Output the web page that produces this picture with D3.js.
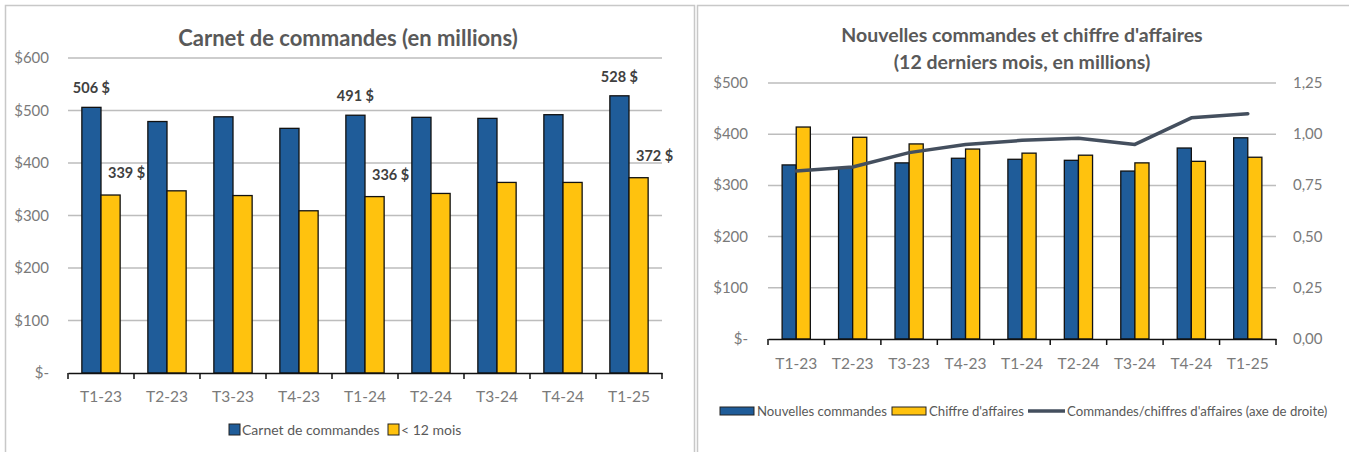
<!DOCTYPE html>
<html>
<head>
<meta charset="utf-8">
<script src="https://cdn.jsdelivr.net/npm/d3@7"></script>
<style>
  body { margin: 0; background: #fff; font-family: Lato, "Open Sans", sans-serif; }
  svg { display: block; }
</style>
</head>
<body>
<svg id="chart" width="1349" height="452"></svg>
<script>
// Shared quarters
const quarters = ["T1-23", "T2-23", "T3-23", "T4-23", "T1-24", "T2-24", "T3-24", "T4-24", "T1-25"];

// Left chart data
const carnet = [506, 479, 488, 466, 491, 487, 485, 492, 528];
const moins12 = [339, 347, 338, 309, 336, 342, 363, 363, 372];
const leftTicks = [0, 100, 200, 300, 400, 500, 600];
const labelledQuarters = ["T1-23", "T1-24", "T1-25"];

// Right chart data
const nouvelles = [340, 334, 344, 353, 351, 349, 328, 373, 393];
const chiffre = [414, 394, 381, 371, 363, 359, 344, 347, 355];
const ratio = [0.82, 0.84, 0.91, 0.95, 0.97, 0.98, 0.95, 1.08, 1.10];
const rightTicks = [0, 100, 200, 300, 400, 500];
const ratioTicks = [0, 0.25, 0.5, 0.75, 1.0, 1.25];

const BLUE = "#1f5c99";
const YELLOW = "#ffc20e";
const LINE = "#444f5e";
const GRID = "#bdbdbd";
const TEXT = "#595959";
const TICKTXT = "#7a7a7a";

const svg = d3.select("#chart");

// Panel frames
svg.append("path")
  .attr("d", "M5.5,452 V5.5 H694.5 V452")
  .attr("fill", "none").attr("stroke", "#c8c8c8").attr("stroke-width", 1.5);
svg.append("path")
  .attr("d", "M697.5,452 V5.5 H1349")
  .attr("fill", "none").attr("stroke", "#c8c8c8").attr("stroke-width", 1.5);

const dollar = d => d === 0 ? "$-" : "$" + d;

// ---------- Left chart ----------
{
  const x0 = d3.scaleBand().domain(quarters).range([68, 662]).paddingInner(0.42).paddingOuter(0.21);
  const x1 = d3.scaleBand().domain(["carnet", "moins12"]).range([0, x0.bandwidth()]);
  const y = d3.scaleLinear().domain([0, 600]).range([373, 58]);

  const g = svg.append("g");

  // Title
  g.append("text")
    .attr("x", 348).attr("y", 46)
    .attr("text-anchor", "middle")
    .style("font-size", "22px").style("font-weight", "700")
    .attr("fill", TEXT)
    .text("Carnet de commandes (en millions)");

  // Gridlines
  g.selectAll(".grid").data(leftTicks.filter(d => d > 0)).enter()
    .append("line")
    .attr("x1", 68).attr("x2", 662)
    .attr("y1", d => y(d)).attr("y2", d => y(d))
    .attr("stroke", GRID).attr("stroke-width", 1.5);

  // Y labels
  g.selectAll(".ylab").data(leftTicks).enter()
    .append("text")
    .attr("x", 49).attr("y", d => y(d) + 5)
    .attr("text-anchor", "end")
    .style("font-size", "15px")
    .attr("fill", TICKTXT)
    .text(dollar);

  // Bars
  const groups = g.selectAll(".grp").data(quarters).enter()
    .append("g")
    .attr("transform", d => "translate(" + x0(d) + ",0)");

  groups.append("rect")
    .attr("x", x1("carnet"))
    .attr("y", (d, i) => y(carnet[i]))
    .attr("width", x1.bandwidth())
    .attr("height", (d, i) => y(0) - y(carnet[i]))
    .attr("fill", BLUE).attr("stroke", "#111").attr("stroke-width", 1.3);

  groups.append("rect")
    .attr("x", x1("moins12"))
    .attr("y", (d, i) => y(moins12[i]))
    .attr("width", x1.bandwidth())
    .attr("height", (d, i) => y(0) - y(moins12[i]))
    .attr("fill", YELLOW).attr("stroke", "#111").attr("stroke-width", 1.3);

  // Value labels on selected quarters
  labelledQuarters.forEach(q => {
    const i = quarters.indexOf(q);
    g.append("text")
      .attr("x", x0(q) + x1("carnet") + x1.bandwidth() / 2)
      .attr("y", y(carnet[i]) - 14)
      .attr("text-anchor", "middle")
      .style("font-size", "14.5px").style("font-weight", "700")
      .attr("fill", "#404040")
      .text(carnet[i] + " $");
    g.append("text")
      .attr("x", x0(q) + x1("moins12") + x1.bandwidth() / 2 + 16)
      .attr("y", y(moins12[i]) - 17)
      .attr("text-anchor", "middle")
      .style("font-size", "14.5px").style("font-weight", "700")
      .attr("fill", "#404040")
      .text(moins12[i] + " $");
  });

  // X axis
  const xAxis = g.append("g")
    .attr("transform", "translate(0,373)")
    .call(d3.axisBottom(x0).tickSize(0).tickPadding(18));
  xAxis.select(".domain").attr("stroke", "#111").attr("stroke-width", 1.5);
  xAxis.selectAll("text").style("font-size", "15.5px").attr("fill", TICKTXT).style("font-family", "Lato");
  const bounds = quarters.map((q, i) => 68 + i * (594 / 9)).concat([662]);
  g.selectAll(".xtick").data(bounds).enter()
    .append("line")
    .attr("x1", d => d).attr("x2", d => d)
    .attr("y1", 373).attr("y2", 379)
    .attr("stroke", "#111").attr("stroke-width", 1.5);

  // Legend
  const legend = [
    { label: "Carnet de commandes", color: BLUE, x: 229 },
    { label: "< 12 mois", color: YELLOW, x: 388 }
  ];
  legend.forEach(l => {
    g.append("rect")
      .attr("x", l.x).attr("y", 424).attr("width", 11).attr("height", 11)
      .attr("fill", l.color).attr("stroke", "#222").attr("stroke-width", 1);
    g.append("text")
      .attr("x", l.x + 13).attr("y", 435)
      .style("font-size", "14px").attr("fill", TEXT)
      .text(l.label);
  });
}

// ---------- Right chart ----------
{
  const x0 = d3.scaleBand().domain(quarters).range([768, 1276]).paddingInner(0.5).paddingOuter(0.25);
  const x1 = d3.scaleBand().domain(["nouvelles", "chiffre"]).range([0, x0.bandwidth()]);
  const y = d3.scaleLinear().domain([0, 500]).range([339, 83]);
  const yR = d3.scaleLinear().domain([0, 1.25]).range([339, 83]);

  const g = svg.append("g");

  // Title
  g.append("text")
    .attr("x", 1022).attr("y", 42)
    .attr("text-anchor", "middle")
    .style("font-size", "19.5px").style("font-weight", "700")
    .attr("fill", TEXT)
    .text("Nouvelles commandes  et chiffre d'affaires");
  g.append("text")
    .attr("x", 1022).attr("y", 69)
    .attr("text-anchor", "middle")
    .style("font-size", "19.5px").style("font-weight", "700")
    .attr("fill", TEXT)
    .text("(12 derniers mois, en millions)");

  // Gridlines
  g.selectAll(".grid").data(rightTicks.filter(d => d > 0)).enter()
    .append("line")
    .attr("x1", 768).attr("x2", 1276)
    .attr("y1", d => y(d)).attr("y2", d => y(d))
    .attr("stroke", GRID).attr("stroke-width", 1.5);

  // Left axis labels
  g.selectAll(".ylab").data(rightTicks).enter()
    .append("text")
    .attr("x", 748).attr("y", d => y(d) + 5)
    .attr("text-anchor", "end")
    .style("font-size", "15px")
    .attr("fill", TICKTXT)
    .text(dollar);

  // Right axis labels
  const fmtR = d => d3.format(".2f")(d).replace(".", ",");
  g.selectAll(".rlab").data(ratioTicks).enter()
    .append("text")
    .attr("x", 1293).attr("y", d => yR(d) + 5)
    .style("font-size", "15px")
    .attr("fill", TICKTXT)
    .text(fmtR);

  // Bars
  const groups = g.selectAll(".grp").data(quarters).enter()
    .append("g")
    .attr("transform", d => "translate(" + x0(d) + ",0)");

  groups.append("rect")
    .attr("x", x1("nouvelles"))
    .attr("y", (d, i) => y(nouvelles[i]))
    .attr("width", x1.bandwidth())
    .attr("height", (d, i) => y(0) - y(nouvelles[i]))
    .attr("fill", BLUE).attr("stroke", "#111").attr("stroke-width", 1.3);

  groups.append("rect")
    .attr("x", x1("chiffre"))
    .attr("y", (d, i) => y(chiffre[i]))
    .attr("width", x1.bandwidth())
    .attr("height", (d, i) => y(0) - y(chiffre[i]))
    .attr("fill", YELLOW).attr("stroke", "#111").attr("stroke-width", 1.3);

  // X axis
  const xAxis = g.append("g")
    .attr("transform", "translate(0,339)")
    .call(d3.axisBottom(x0).tickSize(0).tickPadding(19));
  xAxis.select(".domain").attr("stroke", "#111").attr("stroke-width", 1.5);
  xAxis.selectAll("text").style("font-size", "15.5px").attr("fill", TICKTXT).style("font-family", "Lato");
  const bounds = quarters.map((q, i) => 768 + i * (508 / 9)).concat([1276]);
  g.selectAll(".xtick").data(bounds).enter()
    .append("line")
    .attr("x1", d => d).attr("x2", d => d)
    .attr("y1", 339).attr("y2", 345)
    .attr("stroke", "#111").attr("stroke-width", 1.5);

  // Ratio line
  const line = d3.line()
    .x((d, i) => x0(quarters[i]) + x0.bandwidth() / 2)
    .y(d => yR(d));
  g.append("path")
    .datum(ratio)
    .attr("d", line)
    .attr("fill", "none")
    .attr("stroke", LINE).attr("stroke-width", 3.5)
    .attr("stroke-linecap", "round").attr("stroke-linejoin", "round");

  // Legend
  g.append("rect")
    .attr("x", 720).attr("y", 407).attr("width", 34).attr("height", 8)
    .attr("fill", BLUE).attr("stroke", "#222").attr("stroke-width", 1);
  g.append("text")
    .attr("x", 757).attr("y", 416)
    .style("font-size", "13.2px").attr("fill", TEXT)
    .text("Nouvelles commandes");
  g.append("rect")
    .attr("x", 892).attr("y", 407).attr("width", 34).attr("height", 8)
    .attr("fill", YELLOW).attr("stroke", "#222").attr("stroke-width", 1);
  g.append("text")
    .attr("x", 929).attr("y", 416)
    .style("font-size", "13.2px").attr("fill", TEXT)
    .text("Chiffre d'affaires");
  g.append("line")
    .attr("x1", 1028).attr("x2", 1065).attr("y1", 411).attr("y2", 411)
    .attr("stroke", LINE).attr("stroke-width", 3.5);
  g.append("text")
    .attr("x", 1067).attr("y", 416)
    .style("font-size", "13.2px").attr("fill", TEXT)
    .text("Commandes/chiffres d'affaires (axe de droite)");
}
</script>
</body>
</html>
